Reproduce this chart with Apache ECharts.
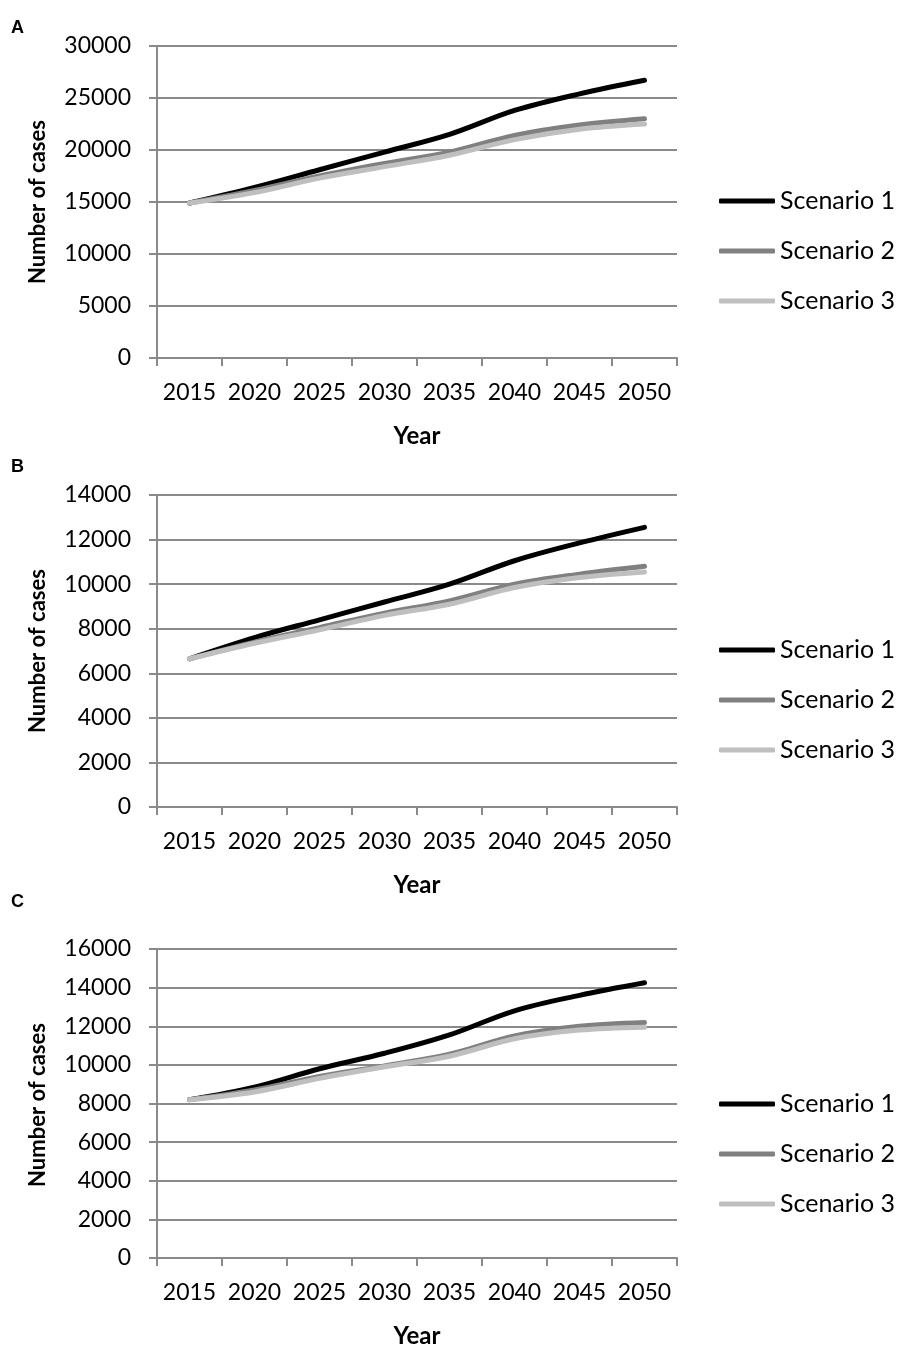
<!DOCTYPE html>
<html>
<head>
<meta charset="utf-8">
<script src="https://cdn.jsdelivr.net/npm/echarts@6/dist/echarts.min.js"></script>
<style>
  html, body { margin: 0; padding: 0; background: #fff; }
  #chart { width: 898px; height: 1349px; }
</style>
</head>
<body>
<div id="chart"></div>
<script>
// Projected number of cases, 2015-2050, three scenarios per panel
const years = ['2015', '2020', '2025', '2030', '2035', '2040', '2045', '2050'];
const seriesNames = ['Scenario 1', 'Scenario 2', 'Scenario 3'];
const panelLetters = ['A', 'B', 'C'];

// Panel A
const panelA_s1 = [14900, 16400, 18100, 19800, 21500, 23800, 25400, 26700];
const panelA_s2 = [14900, 16100, 17500, 18700, 19800, 21400, 22400, 23000];
const panelA_s3 = [14900, 15900, 17300, 18400, 19500, 21000, 22000, 22500];
// Panel B
const panelB_s1 = [6650, 7600, 8400, 9200, 10000, 11050, 11850, 12550];
const panelB_s2 = [6650, 7400, 8050, 8700, 9250, 10000, 10450, 10800];
const panelB_s3 = [6650, 7350, 7950, 8600, 9100, 9850, 10300, 10550];
// Panel C
const panelC_s1 = [8200, 8850, 9800, 10600, 11550, 12800, 13600, 14250];
const panelC_s2 = [8200, 8700, 9400, 9950, 10550, 11500, 12000, 12200];
const panelC_s3 = [8200, 8600, 9300, 9900, 10450, 11350, 11800, 11950];

// Y axis ranges per panel
const yMax = [30000, 14000, 16000];
const yStep = [5000, 2000, 2000];

const panelData = [
  [panelA_s1, panelA_s2, panelA_s3],
  [panelB_s1, panelB_s2, panelB_s3],
  [panelC_s1, panelC_s2, panelC_s3]
];

const lineColors = ['#000000', '#808080', '#bfbfbf'];
const axisGray = '#8a8a8a';
const FONT = 'Lato, "Open Sans", sans-serif';

// Layout of the three panels
const gridLeft = 157;
const plotW = 520;
const plotH = 312;
const gridTops = [46, 495, 949];
const letterTops = [19, 458, 893];
const legendTops = [188, 637, 1091];

const grids = [], xAxes = [], yAxes = [], series = [], legends = [], graphics = [];

gridTops.forEach((top, p) => {
  grids.push({ left: gridLeft, top: top, width: plotW, height: plotH });

  xAxes.push({
    type: 'category',
    gridIndex: p,
    data: years,
    boundaryGap: true,
    name: 'Year',
    nameLocation: 'middle',
    nameGap: 66,
    nameTextStyle: { fontFamily: FONT, fontSize: 24, fontWeight: 'bold', color: '#000' },
    axisLine: { show: true, lineStyle: { color: axisGray, width: 2 } },
    axisTick: { show: true, length: 8, interval: 0, lineStyle: { color: axisGray, width: 2 } },
    axisLabel: { fontFamily: FONT, fontSize: 23, color: '#000', margin: 23, interval: 0, hideOverlap: false },
    splitLine: { show: false }
  });

  yAxes.push({
    type: 'value',
    gridIndex: p,
    min: 0,
    max: yMax[p],
    interval: yStep[p],
    axisLine: { show: true, lineStyle: { color: axisGray, width: 2 } },
    axisTick: { show: true, length: 8, lineStyle: { color: axisGray, width: 2 } },
    axisLabel: {
      fontFamily: FONT, fontSize: 23, color: '#000', margin: 26,
      formatter: (v) => String(v)
    },
    splitLine: { show: true, lineStyle: { color: axisGray, width: 2 } }
  });

  panelData[p].forEach((values, s) => {
    series.push({
      type: 'line',
      name: seriesNames[s],
      xAxisIndex: p,
      yAxisIndex: p,
      data: values,
      smooth: 0.35,
      symbol: 'none',
      color: lineColors[s],
      lineStyle: { color: lineColors[s], width: 5, cap: 'round', join: 'round' },
      emphasis: { disabled: true },
      animation: false
    });
  });

  legends.push({
    orient: 'vertical',
    left: 719,
    top: legendTops[p],
    padding: 0,
    data: seriesNames,
    icon: 'roundRect',
    itemWidth: 56,
    itemHeight: 5,
    itemGap: 24,
    selectedMode: false,
    textStyle: { fontFamily: FONT, fontSize: 25, color: '#000', lineHeight: 26 }
  });

  // Panel letter
  graphics.push({
    type: 'text',
    left: 11,
    top: letterTops[p],
    style: {
      text: panelLetters[p],
      font: 'bold 18px "Liberation Sans", Arial, sans-serif',
      fill: '#000'
    }
  });

  // Rotated y-axis title, centred on the plot height
  graphics.push({
    type: 'text',
    x: 38,
    y: top + plotH / 2,
    rotation: Math.PI / 2,
    style: {
      text: 'Number of cases',
      font: 'bold 22px Lato, "Open Sans", sans-serif',
      fill: '#000',
      align: 'center',
      verticalAlign: 'middle'
    }
  });
});

const chart = echarts.init(document.getElementById('chart'), null, { renderer: 'canvas' });
chart.setOption({
  backgroundColor: '#ffffff',
  animation: false,
  grid: grids,
  xAxis: xAxes,
  yAxis: yAxes,
  legend: legends,
  series: series,
  graphic: graphics
});
</script>
</body>
</html>
